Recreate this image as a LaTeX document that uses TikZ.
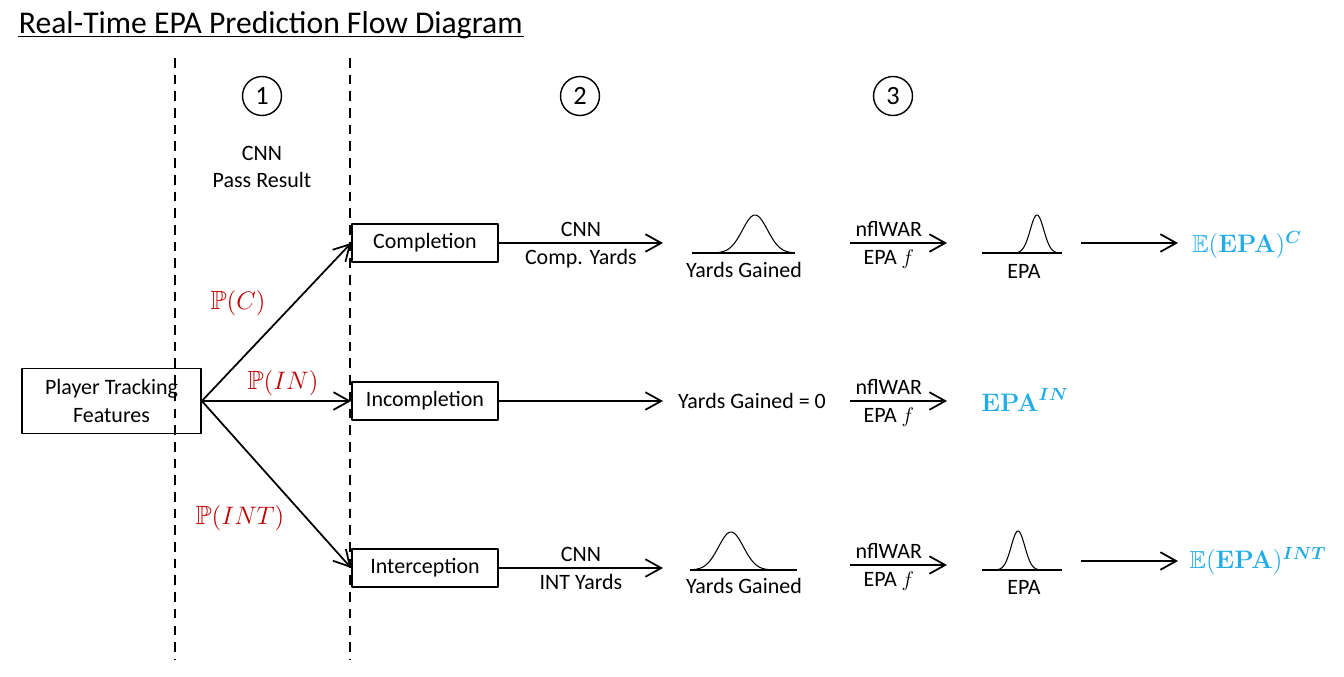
\documentclass[tikz,border=0pt]{standalone}
\usepackage{amsmath,amssymb}
\usepackage[no-math]{fontspec}
\setmainfont{Carlito}
\usetikzlibrary{arrows.meta,positioning}
\definecolor{pred}{RGB}{192,0,0}
\definecolor{pblue}{RGB}{33,172,232}
\begin{document}
\begin{tikzpicture}[x=0.02cm,y=-0.02cm,>={Straight Barb[length=9pt,width=10pt]},line join=round,line width=1pt,font=\fontsize{12.5}{15.5}\selectfont,
	box/.style={draw,minimum width=2.92cm,minimum height=0.76cm,inner sep=0pt},
	num/.style={draw,circle,minimum size=0.78cm,inner sep=0pt,line width=0.8pt,font=\fontsize{15}{18}\selectfont},
	prob/.style={text=pred,font=\fontsize{15}{17}\selectfont},
	res/.style={text=pblue,font=\fontsize{14}{16}\selectfont},
	bell/.style={line width=0.6pt}]
	\def\sa{12.5} % do rong yards
	\def\sb{6.8} % do rong EPA
	\useasboundingbox (0,0) rectangle (1344,676);
	% tieu de
	\node[anchor=base west,inner sep=0pt,font=\fontsize{18}{21}\selectfont] (title) at (18,33) {Real-Time EPA Prediction Flow Diagram};
	\draw[line width=0.9pt] ([yshift=-2pt]title.base west) -- ([yshift=-2pt]title.base east);
	% cac duong dut
	\draw[dashed,dash pattern=on 5.5pt off 4pt] (175,58)--(175,660) (350,58)--(350,660);
	\node[num] (n1) at (262,96) {1};
	\node[num] (n2) at (580,96) {2};
	\node[num] (n3) at (893,96) {3};
	\node (cnn) at (262,153) {CNN};
	\node (pr) at (262,180) {Pass Result};
	% cac hop
	\node[box,minimum width=3.58cm,minimum height=1.3cm,align=center] (ptf) at (111.5,401) {Player Tracking\\Features};
	\node[box] (comp) at (425,243) {Completion};
	\node[box] (inc) at (425,401) {Incompletion};
	\node[box] (int) at (425,568) {Interception};
	\draw[->] (ptf.east)--(comp.west);
	\draw[->] (ptf.east)--(inc.west);
	\draw[->] (ptf.east)--(int.west);
	\node[prob] (pc) at (238,303) {$\mathbb{P}(C)$};
	\node[prob] (pin) at (283,383) {$\mathbb{P}(IN)$};
	\node[prob] (pint) at (240,518) {$\mathbb{P}(INT)$};
	% hang 1
	\path (663,243) coordinate (a1)
		(850,243) coordinate (b1)
		(947,243) coordinate (c1)
		(1081,243) coordinate (d1)
		(1178,243) coordinate (e1);
	\draw[->] (comp.east)--(a1) node[midway,above]{CNN} node[midway,below]{Comp. Yards};
	\draw[bell] (692,253)--(795,253);
	\draw[bell] plot[domain=-37:37,samples=60,smooth] ({755+\x},{253-38*exp(-0.5*(\x/\sa)*(\x/\sa))});
	\node (yg1) at (744,270) {Yards Gained};
	\draw[->] (b1)--(c1) node[pos=0.4,above]{nflWAR} node[pos=0.4,below]{EPA $f$};
	\draw[bell] (982,253)--(1062,253);
	\draw[bell] plot[domain=-20:20,samples=60,smooth] ({1037+\x},{253-38*exp(-0.5*(\x/\sb)*(\x/\sb))});
	\node (epa1) at (1024,271) {EPA};
	\draw[->] (d1)--(e1);
	\node[res] (ec) at (1247,245) {$\mathbb{E}(\mathbf{EPA})^{\boldsymbol{C}}$};
	% hang 2
	\path (663,401) coordinate (a2)
		(850,401) coordinate (b2)
		(947,401) coordinate (c2);
	\draw[->] (inc.east)--(a2);
	\node (yg0) at (752,401) {Yards Gained = 0};
	\draw[->] (b2)--(c2) node[pos=0.4,above]{nflWAR} node[pos=0.4,below]{EPA $f$};
	\node[res] (ein) at (1025,400) {$\mathbf{EPA}^{\boldsymbol{IN}}$};
	% hang 3
	\path (663,568) coordinate (a3)
		(850,565) coordinate (b3)
		(947,565) coordinate (c3)
		(1081,561) coordinate (d3)
		(1178,561) coordinate (e3);
	\draw[->] (int.east)--(a3) node[midway,above]{CNN} node[midway,below]{INT Yards};
	\draw[bell] (690,570)--(797,570);
	\draw[bell] plot[domain=-37:37,samples=60,smooth] ({731+\x},{570-38*exp(-0.5*(\x/\sa)*(\x/\sa))});
	\node (yg3) at (744,586) {Yards Gained};
	\draw[->] (b3)--(c3) node[pos=0.4,above]{nflWAR} node[pos=0.4,below]{EPA $f$};
	\draw[bell] (982,570)--(1062,570);
	\draw[bell] plot[domain=-21:21,samples=60,smooth] ({1018+\x},{570-39*exp(-0.5*(\x/\sb)*(\x/\sb))});
	\node (epa3) at (1024,587) {EPA};
	\draw[->] (d3)--(e3);
	\node[res] (eint) at (1258,561) {$\mathbb{E}(\mathbf{EPA})^{\boldsymbol{INT}}$};
\end{tikzpicture}
\end{document}
